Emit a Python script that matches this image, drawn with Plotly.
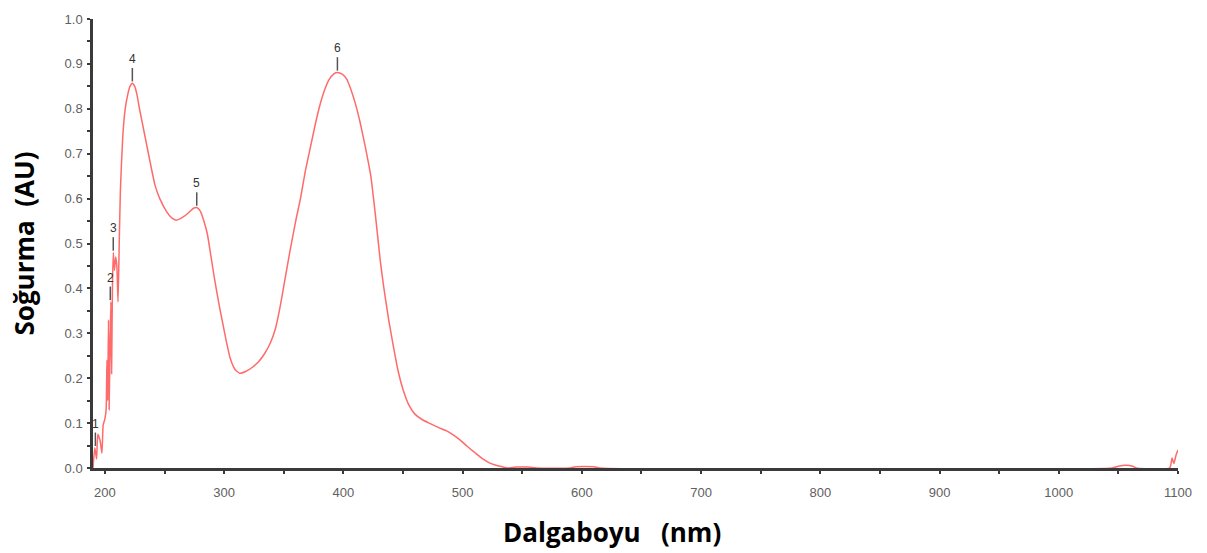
import plotly.graph_objects as go

wavelength = [190, 191.5, 193, 194, 196, 197.5, 198.5, 200, 201, 201.7, 202.3, 203, 203.5, 204.3, 205,
              205.6, 206.3, 207, 208, 209, 210, 211, 212, 213, 215, 217, 219, 221, 223, 225, 227, 229,
              232, 235, 238, 242, 246, 252, 256, 260, 265, 270, 274, 277, 280, 283, 286, 289, 292, 296,
              299, 302, 305, 309, 313, 318, 324, 329, 334, 339, 343, 347, 351, 355, 360, 364, 368, 372,
              376, 380, 384, 388, 392, 395, 399, 403, 406, 410, 414, 418, 423, 427, 431, 434, 438, 442,
              446, 450, 455, 460, 466, 472, 480, 487, 493, 498, 504, 510, 516, 522, 528, 534, 538, 545,
              555, 562, 590, 595, 610, 615, 1045, 1050, 1056, 1062, 1065, 1093, 1095, 1096.5, 1098.5, 1100]
absorbance = [0.0, 0.045, 0.02, 0.075, 0.06, 0.033, 0.095, 0.11, 0.13, 0.24, 0.15, 0.33, 0.13, 0.28, 0.37,
              0.21, 0.40, 0.48, 0.44, 0.47, 0.45, 0.37, 0.50, 0.62, 0.74, 0.80, 0.83, 0.85, 0.857, 0.85,
              0.83, 0.80, 0.76, 0.72, 0.68, 0.63, 0.60, 0.57, 0.557, 0.552, 0.558, 0.568, 0.578, 0.58,
              0.572, 0.55, 0.52, 0.47, 0.42, 0.36, 0.32, 0.28, 0.245, 0.22, 0.211, 0.215, 0.225, 0.237,
              0.255, 0.28, 0.31, 0.36, 0.42, 0.48, 0.55, 0.60, 0.66, 0.71, 0.76, 0.805, 0.84, 0.865, 0.878,
              0.881, 0.877, 0.865, 0.845, 0.812, 0.77, 0.72, 0.65, 0.56, 0.46, 0.40, 0.33, 0.27, 0.215, 0.175,
              0.14, 0.12, 0.108, 0.10, 0.09, 0.082, 0.072, 0.062, 0.048, 0.035, 0.022, 0.012, 0.006, 0.002,
              0.0, 0.002, 0.002, 0.0, 0.0, 0.003, 0.003, 0.0, 0.0, 0.004, 0.006, 0.004, 0.0, 0.0, 0.022,
              0.01, 0.03, 0.04]

peak_nm = [192, 204.5, 207, 223, 277, 395]
peak_abs = [0.045, 0.37, 0.48, 0.857, 0.58, 0.881]
peak_labels = ["1", "2", "3", "4", "5", "6"]

x_ticks = [200, 300, 400, 500, 600, 700, 800, 900, 1000, 1100]
y_ticks = [0.0, 0.1, 0.2, 0.3, 0.4, 0.5, 0.6, 0.7, 0.8, 0.9, 1.0]

fig = go.Figure()
fig.add_trace(go.Scatter(x=wavelength, y=absorbance, mode="lines",
                         line=dict(color="#ff6a6a", width=1.5, shape="spline", smoothing=0.5),
                         showlegend=False, hoverinfo="x+y"))

for xp, yp, lab in zip(peak_nm, peak_abs, peak_labels):
    fig.add_shape(type="line", x0=xp, x1=xp, y0=yp + 0.004, y1=yp + 0.034,
                  xref="x", yref="y", line=dict(color="#555555", width=1.5))
    fig.add_annotation(x=xp, y=yp + 0.034, text=lab, showarrow=False, yanchor="bottom",
                       xanchor="center", font=dict(family="Liberation Sans, Arial", size=12, color="#333333"))

fig.add_annotation(xref="paper", yref="paper", x=-0.0645, y=0.50, text="<b>Soğurma  (AU)</b>",
                   textangle=-90, showarrow=False, xanchor="center", yanchor="middle",
                   font=dict(family="Open Sans, Lato, sans-serif", size=26, color="#000000"))
fig.add_annotation(xref="paper", yref="paper", x=0.478, y=-0.143, text="<b>Dalgaboyu   (nm)</b>",
                   showarrow=False, xanchor="center", yanchor="middle",
                   font=dict(family="Open Sans, Lato, sans-serif", size=26, color="#000000"))

fig.update_xaxes(range=[190, 1100], tickvals=x_ticks, ticktext=[str(v) for v in x_ticks],
                 showgrid=False, zeroline=False, showline=True, linecolor="#3a3a3a", linewidth=2.5,
                 ticks="outside", ticklen=3, tickwidth=1.5, tickcolor="#3a3a3a", ticklabelstandoff=8,
                 minor=dict(dtick=50, tick0=200, ticks="outside", ticklen=3, tickcolor="#3a3a3a", showgrid=False),
                 tickfont=dict(family="Liberation Sans, Arial", size=13, color="#606060"))
fig.update_yaxes(range=[0, 1.0], tickvals=y_ticks, ticktext=[f"{v:.1f}" for v in y_ticks],
                 showgrid=False, zeroline=False, showline=True, linecolor="#3a3a3a", linewidth=2.5,
                 ticks="outside", ticklen=3, tickwidth=1.5, tickcolor="#3a3a3a", ticklabelstandoff=2,
                 minor=dict(dtick=0.05, tick0=0, ticks="outside", ticklen=3, tickcolor="#3a3a3a", showgrid=False),
                 tickfont=dict(family="Liberation Sans, Arial", size=13, color="#606060"))

fig.update_layout(width=1207, height=553, margin=dict(l=93, r=29, t=12, b=85),
                  plot_bgcolor="white", paper_bgcolor="white")

fig.write_html("out.html")
